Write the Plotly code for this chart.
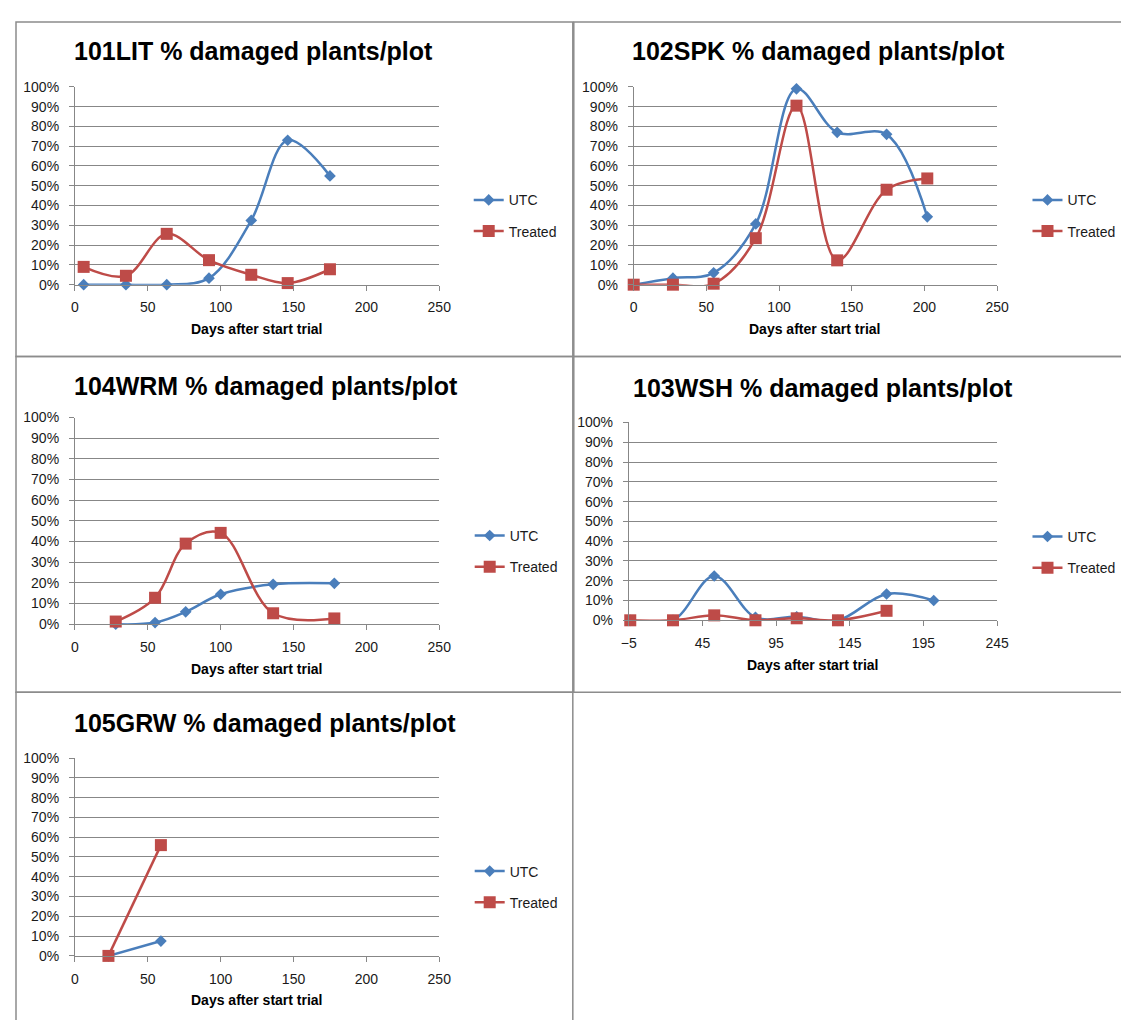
import plotly.graph_objects as go

# days after start trial and % damaged plants per plot
LIT_DAYS = [6, 35, 63, 92, 121, 146, 175]
LIT_UTC = [0, 0, 0, 3.3, 32.5, 73, 55]
LIT_TREATED = [9, 4.5, 25.7, 12.4, 5, 0.8, 7.8]

SPK_DAYS = [0, 27, 55, 84, 112, 140, 174, 202]
SPK_UTC = [0, 3.3, 6, 30.7, 99, 77, 76, 34.3]
SPK_TREATED = [0, 0, 0.5, 23.5, 90.5, 12.3, 48, 53.7]

WRM_DAYS = [28, 55, 76, 100, 136, 178]
WRM_UTC = [0, 0.8, 6, 14.5, 19.3, 19.8]
WRM_TREATED = [1.3, 12.8, 39, 44.2, 5.3, 2.8]

WSH_UTC_DAYS = [-4, 25, 53, 81, 109, 137, 170, 202]
WSH_UTC = [0, 0, 22.4, 1.5, 1.8, 0, 13.3, 10]
WSH_TREATED_DAYS = [-4, 25, 53, 81, 109, 137, 170]
WSH_TREATED = [0, 0, 2.5, 0, 1, 0, 4.8]

GRW_DAYS = [23, 59]
GRW_UTC = [0, 7.5]
GRW_TREATED = [0, 56]

TITLES = [
    "101LIT % damaged plants/plot",
    "102SPK % damaged plants/plot",
    "104WRM % damaged plants/plot",
    "103WSH % damaged plants/plot",
    "105GRW % damaged plants/plot",
]
X_TITLE = "Days after start trial"

# the page body has an 8px margin, so keep the figure inside the window
OFF = 8
W, H = 1129 - 2 * OFF, 1028 - 2 * OFF
BLUE = "#4A7EBB"
RED = "#BE4B48"
GRID = "#878787"
FONT = "Liberation Sans"


def px(x):
    # window pixel -> paper x
    return (x - OFF) / W


def py(y):
    # window pixel -> paper y
    return 1 - (y - OFF) / H


def main() -> None:
    panels = [
        # data, plot area (left, right, top, bottom), x range, title pos, legend pos
        dict(utc=(LIT_DAYS, LIT_UTC), trt=(LIT_DAYS, LIT_TREATED),
             box=(68, 439, 80, 281), xr=(0, 250), title=(65, 44), leg=(469, 179)),
        dict(utc=(SPK_DAYS, SPK_UTC), trt=(SPK_DAYS, SPK_TREATED),
             box=(637, 1007, 80, 281), xr=(0, 250), title=(633, 44), leg=(1038, 179)),
        dict(utc=(WRM_DAYS, WRM_UTC), trt=(WRM_DAYS, WRM_TREATED),
             box=(68, 439, 416, 626), xr=(0, 250), title=(65, 384), leg=(470, 520)),
        dict(utc=(WSH_UTC_DAYS, WSH_UTC), trt=(WSH_TREATED_DAYS, WSH_TREATED),
             box=(632, 1007, 421, 622), xr=(-5, 245), title=(634, 386), leg=(1038, 521)),
        dict(utc=(GRW_DAYS, GRW_UTC), trt=(GRW_DAYS, GRW_TREATED),
             box=(68, 439, 762, 963), xr=(0, 250), title=(65, 726), leg=(470, 861)),
    ]

    fig = go.Figure()
    layout = dict(
        width=W, height=H,
        margin=dict(l=0, r=0, t=0, b=0),
        paper_bgcolor="white", plot_bgcolor="white",
        font=dict(family=FONT, size=14, color="#1a1a1a"),
        annotations=[], shapes=[],
    )

    for i, p in enumerate(panels):
        n = "" if i == 0 else str(i + 1)
        leg = "legend" + n
        l, r, t, b = p["box"]

        fig.add_trace(go.Scatter(
            x=p["utc"][0], y=p["utc"][1], name="UTC", mode="lines+markers",
            line=dict(color=BLUE, width=2.5, shape="spline", smoothing=1),
            marker=dict(symbol="diamond", size=9, color=BLUE),
            xaxis="x" + n, yaxis="y" + n, legend=leg, legendgroup="u" + n,
            cliponaxis=False,
        ))
        fig.add_trace(go.Scatter(
            x=p["trt"][0], y=p["trt"][1], name="Treated", mode="lines+markers",
            line=dict(color=RED, width=2.5, shape="spline", smoothing=1),
            marker=dict(symbol="square", size=12, color=RED),
            xaxis="x" + n, yaxis="y" + n, legend=leg, legendgroup="t" + n,
            cliponaxis=False,
        ))

        layout["xaxis" + n] = dict(
            domain=[px(l), px(r)], anchor="y" + n, range=list(p["xr"]),
            tick0=p["xr"][0], dtick=50, showgrid=False, zeroline=False,
            showline=True, linecolor=GRID, linewidth=1,
            ticks="outside", ticklen=5, tickcolor=GRID, ticklabelstandoff=5,
            tickfont=dict(size=14), fixedrange=True,
        )
        layout["yaxis" + n] = dict(
            domain=[py(b), py(t)], anchor="x" + n, range=[0, 100], dtick=10,
            ticksuffix="%", showgrid=True, gridcolor=GRID, gridwidth=1,
            zeroline=False, showline=True, linecolor=GRID, linewidth=1,
            ticks="outside", ticklen=5, tickcolor=GRID, ticklabelstandoff=7,
            tickfont=dict(size=14), fixedrange=True,
        )
        layout[leg] = dict(
            x=px(p["leg"][0]), y=py(p["leg"][1]), xanchor="left", yanchor="top",
            bgcolor="rgba(0,0,0,0)", font=dict(size=14),
            traceorder="grouped", tracegroupgap=10, itemwidth=30,
        )
        layout["annotations"].append(dict(
            text="<b>" + TITLES[i] + "</b>", xref="paper", yref="paper",
            x=px(p["title"][0]), y=py(p["title"][1]), xanchor="left",
            yanchor="middle", showarrow=False,
            font=dict(family=FONT, size=25, color="black"),
        ))
        layout["annotations"].append(dict(
            text="<b>" + X_TITLE + "</b>", xref="paper", yref="paper",
            x=px((l + r) / 2), y=py(b + 45), xanchor="center",
            yanchor="middle", showarrow=False,
            font=dict(family=FONT, size=14, color="black"),
        ))

    # chart area borders
    for x0, y0, x1, y1 in [(8, 14, 575, 354), (576, 14, 1145, 354),
                           (8, 354, 575, 695), (576, 354, 1145, 695),
                           (8, 695, 575, 1045)]:
        layout["shapes"].append(dict(
            type="rect", xref="paper", yref="paper",
            x0=px(x0), x1=px(x1), y0=py(y0), y1=py(y1),
            line=dict(color="#8c8c8c", width=1.5),
        ))

    fig.update_layout(**layout)
    fig.write_html("out.html")


if __name__ == "__main__":
    main()
